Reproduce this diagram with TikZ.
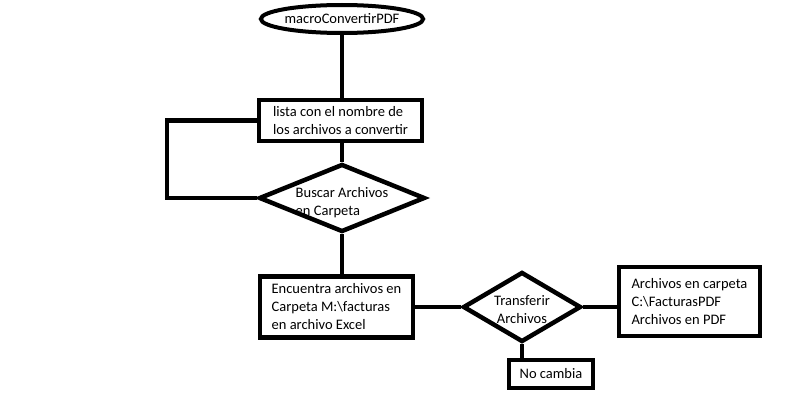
\documentclass[tikz,border=0pt]{standalone}
\usepackage{fontspec}
\setmainfont{Carlito}
\usetikzlibrary{shapes.geometric}
\begin{document}
\begin{tikzpicture}[x=1pt,y=-1pt,
  every node/.style={font=\fontsize{14.5}{18}\selectfont},
  box/.style={draw,line width=4.5pt,rectangle,inner sep=0pt,align=left},
  dec/.style={draw,line width=4.5pt,diamond,inner sep=0pt},
  term/.style={draw,line width=4pt,ellipse,inner sep=0pt},
  conn/.style={line width=4.5pt,line join=miter}]
\useasboundingbox (0,0) rectangle (795,420);
\node[term,minimum width=153pt,minimum height=28pt] (ell) at (342,19) {macroConvertirPDF};
\node[box,minimum width=163pt,minimum height=41pt] (r1) at (340.5,120.5) {lista con el nombre de\\los archivos a convertir};
\node[dec,minimum width=166pt,minimum height=68pt,label={[align=left,yshift=-5pt]center:Buscar Archivos\\en Carpeta}] (d1) at (342,198) {};
\node[box,minimum width=153pt,minimum height=61pt] (r2) at (336.5,307) {Encuentra archivos en\\Carpeta M:\textbackslash facturas\\en archivo Excel};
\node[dec,minimum width=118pt,minimum height=70pt,label={[align=center,yshift=-3pt]center:Transferir\\Archivos}] (d2) at (522,307) {};
\node[box,minimum width=141pt,minimum height=69pt] (r3) at (689.5,301.5) {Archivos en carpeta\\C:\textbackslash FacturasPDF\\Archivos en PDF};
\node[box,minimum width=84pt,minimum height=28pt] (r4) at (551,374) {No cambia};
\coordinate (lp) at (167,198);
\draw[conn] (ell.south) -- (ell.south |- r1.north);
\draw[conn] (r1.south -| d1.north) -- (d1.north);
\draw[conn] (d1.west) -- (lp) |- (r1.west);
\draw[conn] (d1.south) -- (d1.south |- r2.north);
\draw[conn] (r2.east) -- (d2.west);
\draw[conn] (d2.east) -- (d2.east -| r3.west);
\draw[conn] (d2.south) -- (d2.south |- r4.north);
\end{tikzpicture}
\end{document}
